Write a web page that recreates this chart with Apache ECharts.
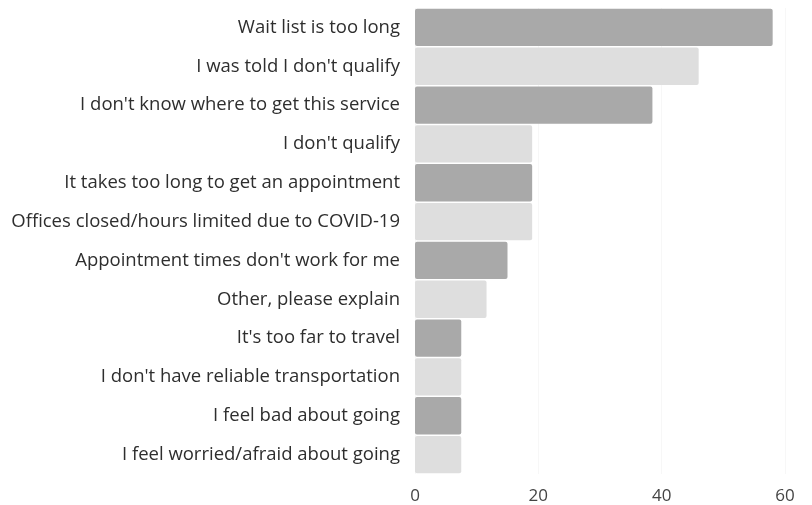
<!DOCTYPE html>
<html>
<head>
<meta charset="utf-8">
<script src="https://cdn.jsdelivr.net/npm/echarts@6/dist/echarts.min.js"></script>
<style>
  html, body { margin: 0; padding: 0; background: #fff; }
  #chart { width: 812px; height: 505px; }
</style>
</head>
<body>
<div id="chart"></div>
<script>
  // reasons, top to bottom
  var categories = [
    "Wait list is too long",
    "I was told I don't qualify",
    "I don't know where to get this service",
    "I don't qualify",
    "It takes too long to get an appointment",
    "Offices closed/hours limited due to COVID-19",
    "Appointment times don't work for me",
    "Other, please explain",
    "It's too far to travel",
    "I don't have reliable transportation",
    "I feel bad about going",
    "I feel worried/afraid about going"
  ];
  var values = [58, 46, 38.5, 19, 19, 19, 15, 11.6, 7.5, 7.5, 7.5, 7.5];
  var xTicks = [0, 20, 40, 60];

  var darkBar = '#a9a9a9';
  var lightBar = '#dedede';

  var chart = echarts.init(document.getElementById('chart'));
  var option = {
    animation: false,
    grid: {
      left: 415,
      right: 27,
      top: 8,
      bottom: 28,
      containLabel: false
    },
    xAxis: {
      type: 'value',
      min: xTicks[0],
      max: xTicks[xTicks.length - 1],
      interval: 20,
      axisLine: { show: false },
      axisTick: { show: false },
      splitLine: {
        show: true,
        lineStyle: { color: '#f7f7f7', width: 1 }
      },
      axisLabel: {
        color: '#444',
        fontFamily: 'Open Sans',
        fontSize: 17,
        margin: 14
      }
    },
    yAxis: {
      type: 'category',
      data: categories,
      inverse: true,
      axisLine: { show: false },
      axisTick: { show: false },
      axisLabel: {
        color: '#2e2e2e',
        fontFamily: 'Open Sans',
        fontSize: 18.5,
        margin: 15
      }
    },
    series: [{
      type: 'bar',
      barCategoryGap: '4%',
      data: values.map(function (v, i) {
        return {
          value: v,
          itemStyle: { color: i % 2 === 0 ? darkBar : lightBar }
        };
      }),
      itemStyle: { borderRadius: 2 }
    }]
  };
  chart.setOption(option);
</script>
</body>
</html>
